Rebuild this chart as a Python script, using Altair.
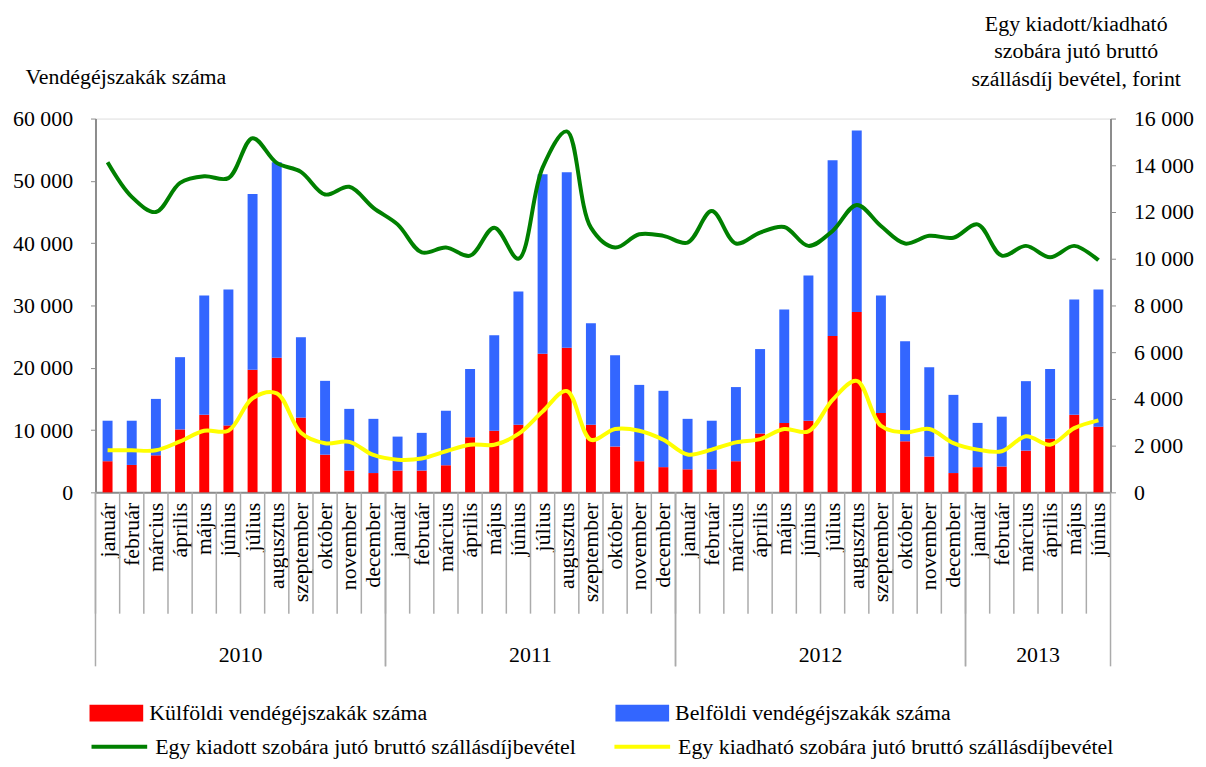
import json
import altair as alt
import pandas as pd

FONT = "Liberation Serif"

months = ["január", "február", "március", "április", "május", "június",
          "július", "augusztus", "szeptember", "október", "november", "december"]
years = ["2010", "2011", "2012", "2013"]
months_per_year = [12, 12, 12, 6]

# Külföldi vendégéjszakák száma (red)
foreign = [5000, 4400, 5950, 10100, 12450, 10750, 19700, 21600, 12000, 6050, 3500, 3100,
           3500, 3500, 4350, 8850, 9900, 10850, 22250, 23200, 10850, 7350, 5000, 4050,
           3700, 3700, 5000, 9450, 11150, 11500, 25100, 28950, 12750, 8200, 5750, 3100,
           4050, 4150, 6700, 8600, 12450, 10550]
# Belföldi vendégéjszakák száma (blue)
domestic = [6500, 7100, 9050, 11600, 19150, 21800, 28200, 31400, 12900, 11850, 9900, 8700,
            5450, 6050, 8750, 10950, 15300, 21400, 28800, 28200, 16300, 14650, 12250, 12250,
            8100, 7800, 11900, 13550, 18200, 23300, 28200, 29150, 18850, 16050, 14350, 12550,
            7100, 8000, 11150, 11200, 18500, 22000]
# Egy kiadott szobára jutó bruttó szállásdíjbevétel (green)
rented = [14130, 12650, 12000, 13250, 13530, 13450, 15160, 14100, 13720, 12750, 13080, 12180,
          11470, 10270, 10480, 10130, 11330, 10000, 13900, 15450, 11330, 10480, 11050, 10980,
          10690, 12040, 10650, 11120, 11360, 10550, 11190, 12300, 11400, 10650, 10980, 10900,
          11470, 10130, 10550, 10060, 10550, 9940]
# Egy kiadható szobára jutó bruttó szállásdíjbevétel (yellow)
available = [1800, 1800, 1800, 2180, 2640, 2640, 4030, 4240, 2550, 2100, 2160, 1600,
             1400, 1450, 1760, 2040, 2040, 2500, 3460, 4340, 2250, 2710, 2640, 2250,
             1620, 1830, 2140, 2280, 2710, 2610, 3960, 4770, 2850, 2570, 2710, 2110,
             1830, 1760, 2400, 2040, 2750, 3080]

bar_names = ["Külföldi vendégéjszakák száma", "Belföldi vendégéjszakák száma"]
bar_colors = ["#FF0000", "#3366FF"]
line_names = ["Egy kiadott szobára jutó bruttó szállásdíjbevétel",
              "Egy kiadható szobára jutó bruttó szállásdíjbevétel"]
line_colors = ["#008000", "#FFFF00"]

n = len(foreign)
idx = list(range(n))

bar_rows = []
for i in idx:
    bar_rows.append({"i": i, "series": bar_names[0], "v": foreign[i], "ord": 0})
    bar_rows.append({"i": i, "series": bar_names[1], "v": domestic[i], "ord": 1})
bar_df = pd.DataFrame(bar_rows)

line_rows = []
for i in idx:
    line_rows.append({"i": i, "series": line_names[0], "v": rented[i]})
    line_rows.append({"i": i, "series": line_names[1], "v": available[i]})
line_df = pd.DataFrame(line_rows)

month_df = pd.DataFrame({"i": idx})

yr_rows = []
start = 0
for y, m in zip(years, months_per_year):
    yr_rows.append({"year": y, "first": start, "last": start + m - 1, "mid": start + m // 2})
    start += m
year_df = pd.DataFrame(yr_rows)

W, H = 1021, 376
GREY = "#8C8C8C"
LGREY = "#ABABAB"

label_expr = json.dumps(months, ensure_ascii=False) + "[datum.value % 12]"
x_scale = alt.Scale(paddingInner=0, paddingOuter=0)
x_axis = alt.Axis(title=None, labelExpr=label_expr, labelAngle=270, ticks=False,
                  labelFont=FONT, labelFontSize=22, labelColor="black", labelPadding=10,
                  domainColor=GREY, domainWidth=2, grid=False, labelBound=False,
                  labelOverlap=False)

def X(field, band=0.5):
    return alt.X(f"{field}:O", scale=x_scale, axis=x_axis, bandPosition=band)

num_expr = "replace(format(datum.value, ','), ',', ' ')"

bars = alt.Chart(bar_df).mark_bar(width=10).encode(
    x=X("i"),
    y=alt.Y("v:Q", stack="zero",
            scale=alt.Scale(domain=[0, 60000], nice=False),
            axis=alt.Axis(orient="left", values=list(range(0, 60001, 10000)),
                          labelExpr=num_expr, grid=False, tickSize=5, labelPadding=18,
                          tickColor=GREY, domainColor=GREY, domainWidth=2,
                          labelFont=FONT, labelFontSize=22, labelColor="black",
                          title="Vendégéjszakák száma", titleFont=FONT, titleFontSize=22,
                          titleFontWeight="normal", titleColor="black", titleAngle=0,
                          titleAlign="left", titleBaseline="alphabetic",
                          titleX=-71, titleY=-35)),
    fill=alt.Fill("series:N", sort=bar_names,
                  scale=alt.Scale(domain=bar_names, range=bar_colors),
                  legend=alt.Legend(orient="none", legendX=-6, legendY=571, columns=2,
                                    title=None, padding=0,
                                    symbolType="M-1,-0.31H1V0.31H-1Z", symbolSize=2916,
                                    symbolStrokeWidth=0, labelFont=FONT, labelFontSize=22,
                                    labelColor="black", labelOffset=6, labelLimit=0,
                                    columnPadding=189)),
    order=alt.Order("ord:Q"),
)

lines = alt.Chart(line_df).mark_line(strokeWidth=4, interpolate="catmull-rom").encode(
    x=X("i"),
    y=alt.Y("v:Q",
            scale=alt.Scale(domain=[0, 16000], nice=False),
            axis=alt.Axis(orient="right", values=list(range(0, 16001, 2000)),
                          labelExpr=num_expr, grid=False, tickSize=5, labelPadding=18,
                          tickColor=GREY, domainColor=GREY, domainWidth=2,
                          labelFont=FONT, labelFontSize=22, labelColor="black",
                          title=["Egy kiadott/kiadható", "szobára jutó bruttó",
                                 "szállásdíj bevétel, forint"],
                          titleFont=FONT, titleFontSize=22, titleFontWeight="normal",
                          titleColor="black", titleAngle=0, titleAlign="center",
                          titleBaseline="alphabetic", titleLineHeight=28,
                          titleX=-35, titleY=-89)),
    stroke=alt.Stroke("series:N", sort=line_names,
                      scale=alt.Scale(domain=line_names, range=line_colors),
                      legend=alt.Legend(orient="none", legendX=-6, legendY=602, columns=2,
                                        title=None, padding=0, symbolType="stroke",
                                        symbolSize=3136, symbolStrokeWidth=4,
                                        labelFont=FONT, labelFontSize=22,
                                        labelColor="black", labelOffset=6, labelLimit=0,
                                        columnPadding=30)),
)

month_rules = alt.Chart(month_df).mark_rule(color=LGREY, strokeWidth=1.5).encode(
    x=X("i", 0), y=alt.value(H), y2=alt.value(H + 122))

year_rules_a = alt.Chart(year_df).mark_rule(color=LGREY, strokeWidth=1.5).encode(
    x=X("first", 0), y=alt.value(H), y2=alt.value(H + 175))
year_rules_b = alt.Chart(year_df).mark_rule(color=LGREY, strokeWidth=1.5).encode(
    x=X("last", 1), y=alt.value(H), y2=alt.value(H + 175))

year_text = alt.Chart(year_df).mark_text(font=FONT, fontSize=22, color="black",
                                         baseline="middle", align="center").encode(
    x=X("mid", 0), y=alt.value(H + 164), text="year:N")

chart = alt.layer(month_rules, year_rules_a, year_rules_b, year_text, bars, lines).resolve_scale(
    y="independent"
).properties(
    width=W, height=H,
    autosize=alt.AutoSizeParams(type="none"),
    padding={"left": 88, "top": 109, "right": 88, "bottom": 266},
).configure_view(stroke=GREY, strokeWidth=2).configure(background="white", font=FONT)

chart.save("out.html", embed_options={"renderer": "svg", "actions": False})
